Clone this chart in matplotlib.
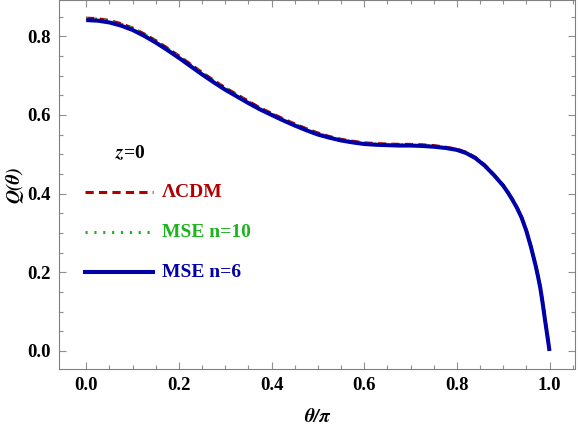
import numpy as np
import matplotlib
matplotlib.use('Agg')
import matplotlib.pyplot as plt
from matplotlib.lines import Line2D

plt.rcParams['font.family'] = 'Liberation Serif'
plt.rcParams['font.weight'] = 'bold'
plt.rcParams['mathtext.fontset'] = 'custom'
plt.rcParams['mathtext.it'] = 'STIXGeneral:italic:bold'
plt.rcParams['mathtext.rm'] = 'Liberation Serif:bold'

# Data
theta = [0.0, 0.025, 0.05, 0.075, 0.1, 0.125, 0.15, 0.175, 0.2, 0.225, 0.25, 0.275,
         0.3, 0.325, 0.35, 0.375, 0.4, 0.425, 0.45, 0.475, 0.5, 0.525, 0.55, 0.575,
         0.6, 0.625, 0.65, 0.675, 0.7, 0.725, 0.75, 0.775, 0.8, 0.82, 0.84, 0.86,
         0.88, 0.9, 0.91, 0.92, 0.93, 0.94, 0.95, 0.96, 0.97, 0.975, 0.98, 0.985,
         0.99, 0.995, 1.0]
q_lcdm = [0.846, 0.8445, 0.840, 0.832, 0.821, 0.806, 0.789, 0.770, 0.750, 0.729,
          0.708, 0.688, 0.669, 0.652, 0.635, 0.618, 0.604, 0.590, 0.577, 0.565,
          0.554, 0.545, 0.538, 0.533, 0.529, 0.527, 0.526, 0.525, 0.525, 0.524,
          0.522, 0.518, 0.513, 0.505, 0.492, 0.473, 0.448, 0.421, 0.404, 0.385,
          0.364, 0.339, 0.306, 0.265, 0.218, 0.191, 0.162, 0.124, 0.082, 0.042, 0.0]
q_mse10 = [0.845, 0.8435, 0.839, 0.831, 0.820, 0.805, 0.788, 0.769, 0.749, 0.728,
           0.707, 0.687, 0.668, 0.651, 0.634, 0.617, 0.603, 0.589, 0.576, 0.564,
           0.553, 0.544, 0.537, 0.532, 0.528, 0.526, 0.525, 0.524, 0.524, 0.523,
           0.521, 0.517, 0.512, 0.504, 0.491, 0.472, 0.448, 0.421, 0.404, 0.385,
           0.364, 0.339, 0.306, 0.265, 0.218, 0.191, 0.162, 0.124, 0.082, 0.042, 0.0]
q_mse6 = [0.841, 0.8395, 0.835, 0.827, 0.816, 0.801, 0.784, 0.765, 0.745, 0.724,
          0.703, 0.683, 0.664, 0.647, 0.630, 0.614, 0.600, 0.586, 0.573, 0.561,
          0.550, 0.542, 0.535, 0.530, 0.526, 0.524, 0.523, 0.522, 0.522, 0.521,
          0.519, 0.516, 0.511, 0.503, 0.490, 0.471, 0.447, 0.420, 0.403, 0.384,
          0.363, 0.338, 0.305, 0.264, 0.217, 0.190, 0.161, 0.123, 0.081, 0.041, 0.0]
labels = ['ΛCDM', 'MSE n=10', 'MSE n=6']

red = '#B00000'
green = '#1DB31D'
blue = '#0000A8'
styles = [dict(color=red, lw=2.2, ls=(0, (2.7, 1.7))),
          dict(color=green, lw=2.2, ls=(0, (0.7, 2.2))),
          dict(color=blue, lw=2.9, ls='-')]

fig = plt.figure(figsize=(5.78, 4.25), dpi=100)
ax = fig.add_axes([0.1026, 0.1318, 0.8922, 0.8672])

ax.plot(theta, q_lcdm, zorder=2, **styles[0])
ax.plot(theta, q_mse10, zorder=3, **styles[1])
ax.plot(theta, q_mse6, zorder=4, solid_capstyle='butt', **styles[2])

ax.set_xlim(-0.058, 1.055)
ax.set_ylim(-0.046, 0.891)
ax.set_xticks(np.arange(0, 1.01, 0.2))
ax.set_yticks(np.arange(0, 0.81, 0.2))
ax.set_xticks(np.arange(0, 1.051, 0.05), minor=True)
ax.set_yticks(np.arange(0, 0.88, 0.05), minor=True)
ax.xaxis.set_major_formatter(plt.FormatStrFormatter('%.1f'))
ax.yaxis.set_major_formatter(plt.FormatStrFormatter('%.1f'))

for s in ax.spines.values():
    s.set_color('#808080')
    s.set_linewidth(0.8)
ax.tick_params(which='both', direction='in', top=True, right=True, color='#909090',
               labelsize=13.5, width=0.8)
ax.tick_params(which='major', length=5, pad=6)
ax.tick_params(which='minor', length=3)

lab_font = dict(family='STIXGeneral', style='italic', weight='bold', size=14)
ax.set_xlabel('θ/π', fontdict=lab_font, labelpad=10)
ax.set_ylabel('Q(θ)', fontdict=lab_font, labelpad=3)

# hand-drawn legend like the original
ax.text(0.108, 0.585, '$z$=0', transform=ax.transAxes, fontsize=14, va='center')
rows = [0.480, 0.371, 0.263]
for lab, st, yy in zip(labels, styles, rows):
    ax.add_line(Line2D([0.05, 0.182], [yy, yy], transform=ax.transAxes, **st))
    ax.text(0.199, yy, lab, transform=ax.transAxes, color=st['color'],
            fontsize=14, va='center')

fig.savefig('out.png', dpi=100)
